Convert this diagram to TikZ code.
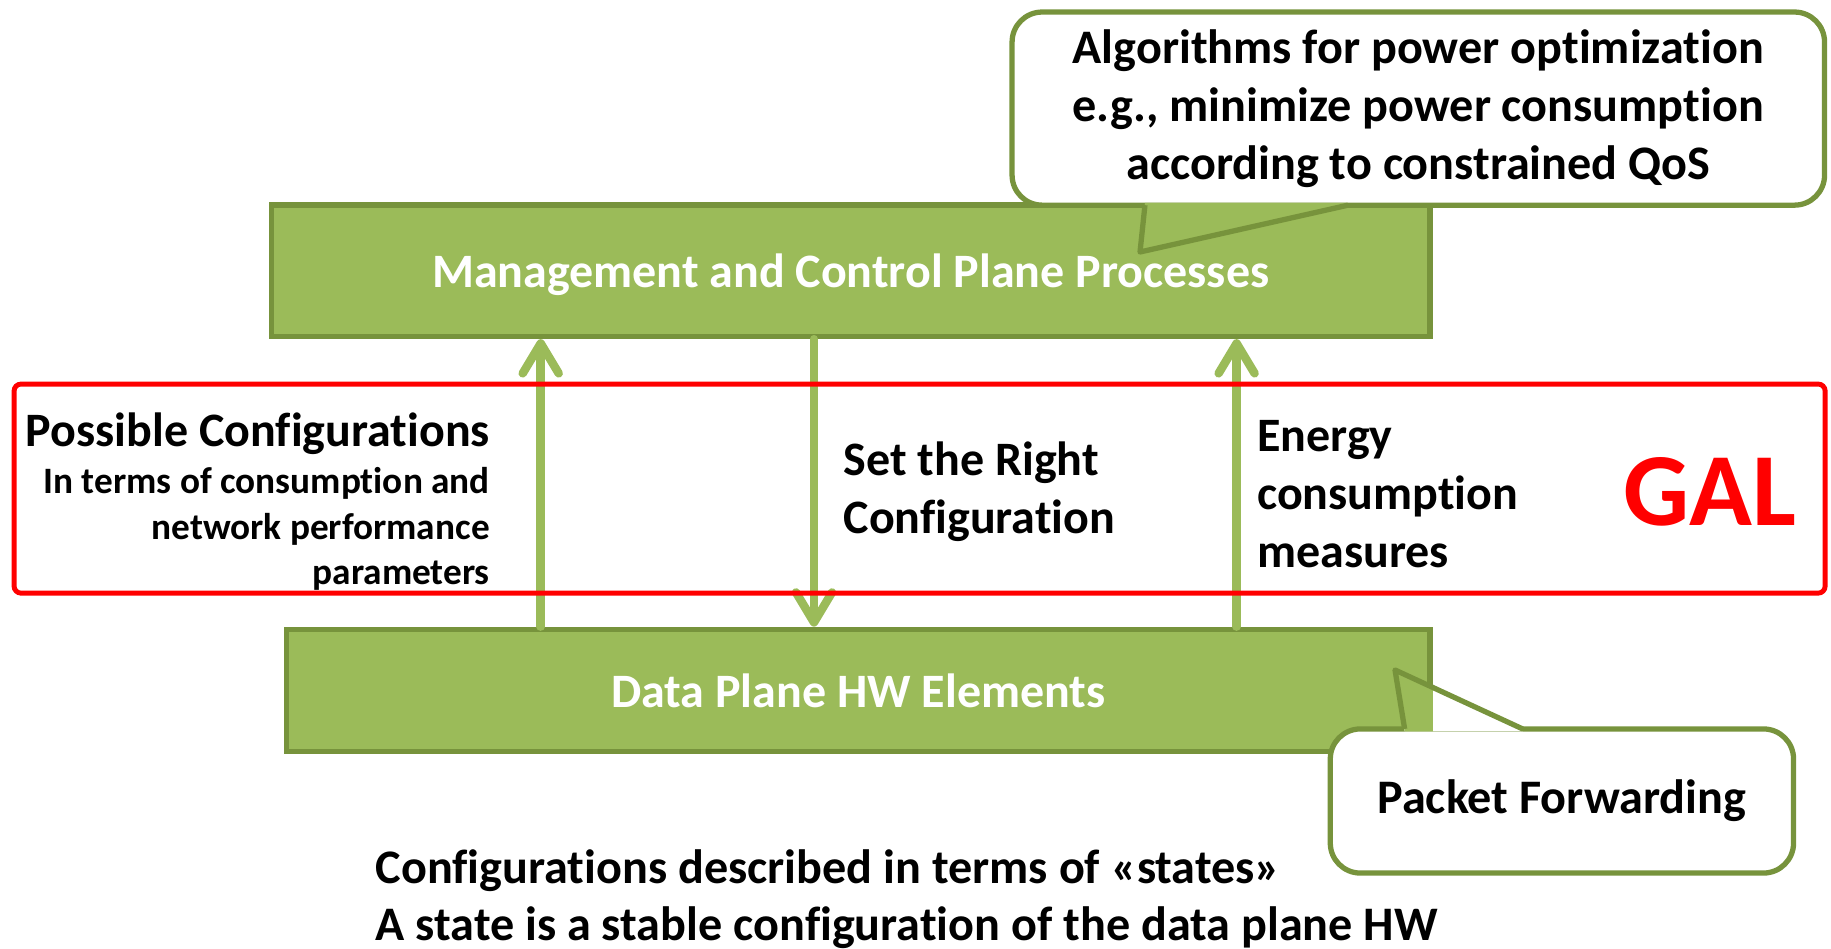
\documentclass[tikz,border=0pt]{standalone}
\usepackage{fontspec}
\setmainfont{Carlito}[Ligatures=NoCommon]
\usetikzlibrary{positioning,arrows.meta,calc}
\definecolor{boxgreen}{HTML}{9BBB59}
\definecolor{edgegreen}{HTML}{77933C}
\definecolor{galred}{HTML}{FF0000}

\begin{document}
\begin{tikzpicture}[x=0.01cm, y=-0.01cm,                 % one unit = one pixel of the slide
    plane/.style={draw=edgegreen, fill=boxgreen, line width=1.6pt, text=white, text depth=0pt,
                  font=\fontsize{13.65}{16}\selectfont\bfseries},   % green layer boxes
    bubble/.style={draw=edgegreen, fill=white, line width=1.5pt, rounded corners=3mm,
                   align=center, font=\fontsize{13.7}{16.6}\selectfont\bfseries},
    side/.style={draw=edgegreen, line width=1.5pt, line join=round},  % callout pointer
    lbl/.style={inner sep=0pt, font=\fontsize{13.65}{16.5}\selectfont\bfseries},
    small/.style={inner sep=0pt, font=\fontsize{10.6}{12.9}\selectfont\bfseries},
    flow/.style={draw=boxgreen, line width=2.4pt, line cap=round,
                 -{Straight Barb[length=3mm,width=3.6mm,round]}}]
  \useasboundingbox (0,0) rectangle (1831,949);

  % the two layers
  \node[plane, minimum width=11.58cm, minimum height=1.31cm] (mcp)  at (850.7,270.8) {Management and Control Plane Processes};
  \node[plane, minimum width=11.43cm, minimum height=1.22cm] (data) at (858.3,690.5) {Data Plane HW Elements};

  % arrows between the layers
  \foreach \x in {540.7,1236.6}
    \draw[flow] (data.north -| \x,0) -- (mcp.south -| \x,0);
  \draw[flow] (mcp.south -| 814,0) -- (data.north -| 814,0);

  % the GAL frame
  \node[draw=galred, line width=1.4pt, rounded corners=2pt,
        minimum width=18.1cm, minimum height=2.09cm] (gal) at (919.6,488.6) {};
  \node[inner sep=0pt, text=galred, font=\fontsize{29.5}{31}\selectfont\bfseries, anchor=east] (galtxt) at (1797,492) {GAL};

  \node[lbl, anchor=east] (poss) at (490.5,434) {Possible Configurations};
  \node[small, align=right, anchor=east] (posssub) at (490.5,529) {In terms of consumption and\\network performance\\parameters};
  \node[lbl, align=left, anchor=west] (setcfg) at (843,492) {Set the Right\\Configuration};
  \node[lbl, align=left, anchor=west] (energy) at (1256.5,494) {Energy\\consumption\\measures};

  % callout: algorithms
  \node[bubble, minimum width=8.12cm, minimum height=1.93cm] (algo) at (1418.3,108.6)
    {Algorithms for power optimization\\e.g., minimize power consumption\\according to constrained QoS};
  \coordinate (algotip) at (1140,252);
  \fill[boxgreen] ($(algo.south west)+(135.5,-5)$) -- (algotip) -- ($(algo.south west)+(338.5,-5)$) -- cycle;
  \draw[side] ($(algo.south west)+(135.5,-2.6)$) -- (algotip) -- ($(algo.south west)+(338.5,-2.6)$);

  % callout: packet forwarding
  \node[bubble, minimum width=4.63cm, minimum height=1.44cm] (pack) at (1561.9,801) {Packet Forwarding};
  \coordinate (packtip) at (1395,670);
  \fill[white] ($(pack.north west)+(77,5)$) -- (packtip) -- ($(pack.north west)+(195,5)$) -- cycle;
  \begin{scope}
    \clip (data.south west) rectangle (data.north east);
    \fill[boxgreen] ($(pack.north west)+(77,5)$) -- (packtip) -- ($(pack.north west)+(195,5)$) -- cycle;
  \end{scope}
  \draw[side] ($(pack.north west)+(77,2.6)$) -- (packtip) -- ($(pack.north west)+(195,2.6)$);

  \node[lbl, align=left, anchor=west, font=\fontsize{13.7}{16.2}\selectfont\bfseries] (states) at (375,899)
    {Configurations described in terms of «states»\\A state is a stable configuration of the data plane HW};
\end{tikzpicture}
\end{document}
